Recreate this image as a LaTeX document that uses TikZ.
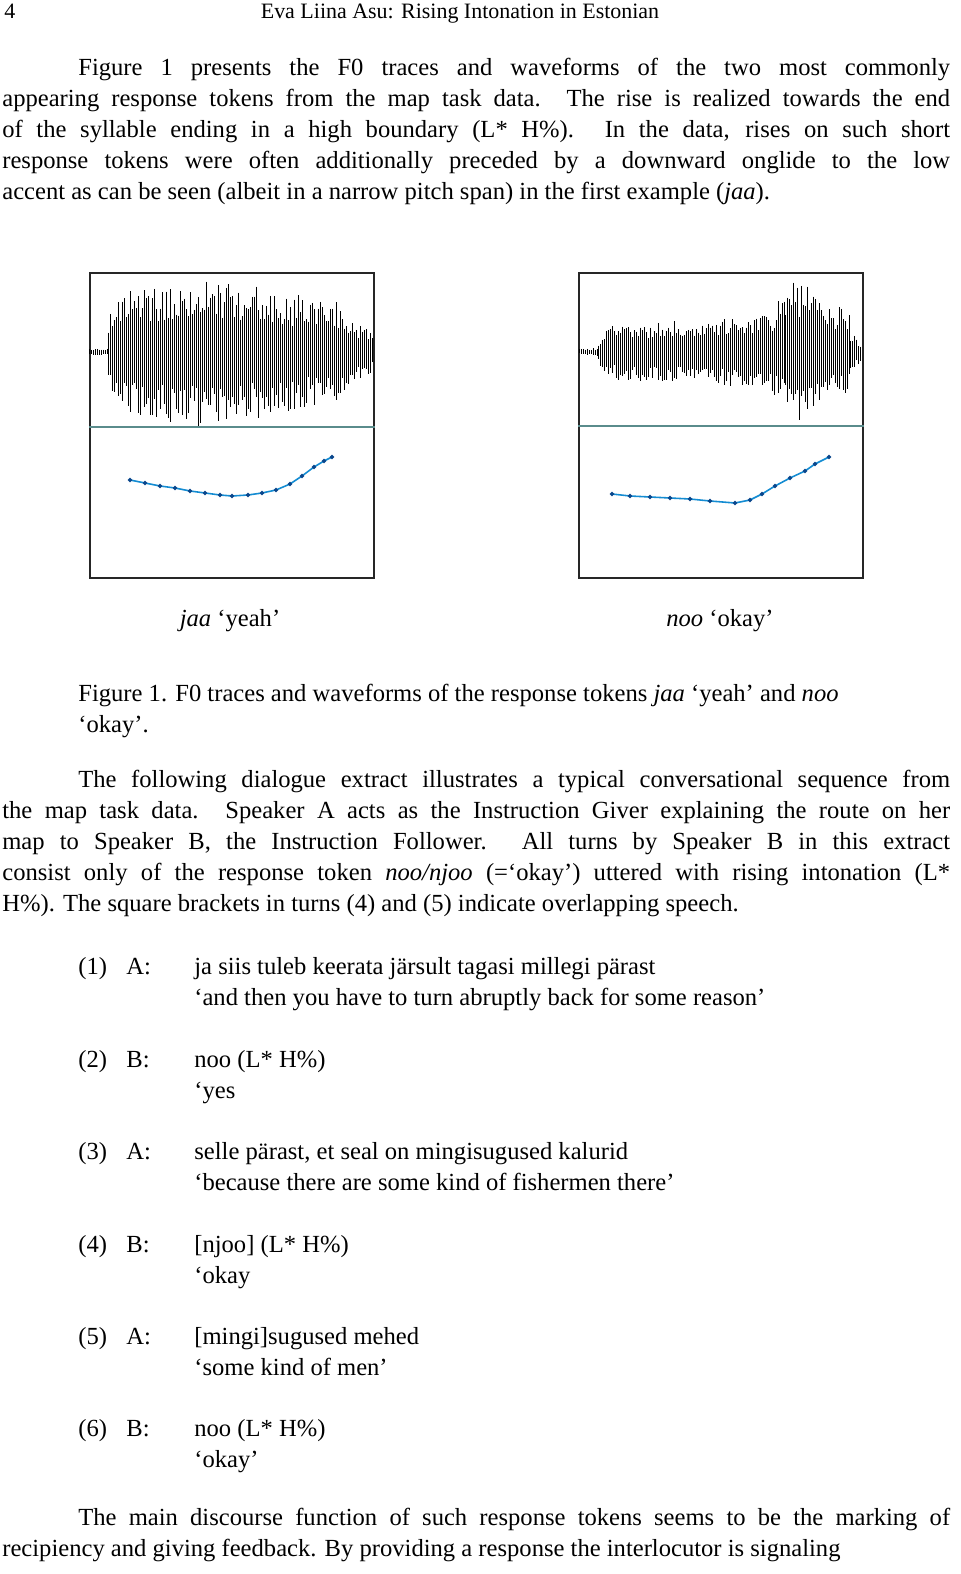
\documentclass[tikz,border=0pt]{standalone}
\usepackage{fontspec}
\setmainfont{Liberation Serif}
\usetikzlibrary{positioning}
\definecolor{divcol}{RGB}{90,140,140}
\definecolor{f0line}{RGB}{20,140,210}
\definecolor{f0mark}{RGB}{10,70,140}
\tikzset{
  body/.style={anchor=north west, inner sep=0pt, text width=18.96cm, align=justify, font=\fontsize{14}{17.6}\selectfont},
  line/.style={anchor=base west, inner sep=0pt, font=\fontsize{14}{17.6}\selectfont},
  panel/.style={draw=black!85, line width=0.9pt},
  divider/.style={draw=divcol, line width=0.8pt},
  fzero/.style={draw=f0line, line width=0.9pt, mark=*, mark size=0.7pt, mark options={fill=f0mark, draw=f0mark}}
}
\newcommand\wavetrace[2]{% center y, segment list
  \foreach \xa/\xb/\aa/\ab in {#2}{
    \pgfmathsetmacro\xc{\xa+2}
    \foreach \x in {\xa,\xc,...,\xb}{
      \pgfmathsetmacro\amp{(\aa+(\ab-\aa)*(\x-\xa)/(\xb-\xa))*(0.45+0.55*rnd)}
      \pgfmathsetmacro\amq{(\aa+(\ab-\aa)*(\x-\xa)/(\xb-\xa))*(0.45+0.55*rnd)}
      \draw[line width=0.35pt] (\x,#1-\amp) -- (\x,#1+\amq);
    }
  }
}
\begin{document}
\begin{tikzpicture}[x=0.02cm, y=-0.02cm]
  \useasboundingbox[fill=white] (0,0) rectangle (960,1574);
  \pgfmathsetseed{7}

  % header
  \node[line, font=\fontsize{12.5}{15}\selectfont] (pageno) at (4,19) {4};
  \node[anchor=base, inner sep=0pt, font=\fontsize{12.5}{15}\selectfont] (runhead) at (460,19) {Eva Liina Asu: Rising Intonation in Estonian};

  % first paragraph
  \node[body] (para1) at (2,58) {\hspace*{76\dimexpr0.02cm\relax}Figure 1 presents the F0 traces and waveforms of the two most commonly\linebreak
  appearing response tokens from the map task data. The rise is realized towards the end\linebreak
  of the syllable ending in a high boundary (L* H\%). In the data, rises on such short\linebreak
  response tokens were often additionally preceded by a downward onglide to the low\linebreak
  accent as can be seen (albeit in a narrow pitch span) in the first example (\textit{jaa}).};

  % panels
  \node[panel, minimum width=5.68cm, minimum height=6.1cm, inner sep=0pt, anchor=north west] (leftbox) at (89,272) {};
  \node[panel, minimum width=5.68cm, minimum height=6.1cm, inner sep=0pt, anchor=north west] (rightbox) at (578,272) {};
  \draw[divider] (leftbox.west |- 0,427) -- (leftbox.east |- 0,427);
  \draw[divider] (rightbox.west |- 0,426) -- (rightbox.east |- 0,426);

  \wavetrace{352}{89/108/3/4, 108/130/40/62, 130/200/62/76, 200/270/76/66, 270/340/62/50, 340/372/42/20}
  \wavetrace{352}{579/598/3/4, 598/612/12/30, 612/760/28/36, 760/785/36/58, 785/815/70/76, 815/850/58/40, 850/861/20/10}

  \draw[fzero] plot coordinates {(130,480) (145,483) (160,486) (175,488) (190,491) (205,493) (220,495) (232,496) (248,495) (262,493) (276,490) (290,484) (302,476) (314,467) (324,461) (332,457)};
  \draw[fzero] plot coordinates {(612,494) (630,496) (650,497) (670,498) (690,499) (710,501) (735,503) (750,500) (762,494) (775,486) (790,478) (805,471) (815,464) (829,457)};

  \node[anchor=base, inner sep=0pt, font=\fontsize{14}{17.6}\selectfont] (leftlabel) at (230,626) {\textit{jaa} ‘yeah’};
  \node[anchor=base, inner sep=0pt, font=\fontsize{14}{17.6}\selectfont] (rightlabel) at (720,626) {\textit{noo} ‘okay’};

  % caption
  \node[line] (cap1) at (78,701) {Figure 1. F0 traces and waveforms of the response tokens \textit{jaa} ‘yeah’ and \textit{noo}};
  \node[line] (cap2) at (78,732) {‘okay’.};

  % second paragraph
  \node[body] (para2) at (2,770) {\hspace*{76\dimexpr0.02cm\relax}The following dialogue extract illustrates a typical conversational sequence from\linebreak
  the map task data. Speaker A acts as the Instruction Giver explaining the route on her\linebreak
  map to Speaker B, the Instruction Follower. All turns by Speaker B in this extract\linebreak
  consist only of the response token \textit{noo/njoo} (=‘okay’) uttered with rising intonation (L*\linebreak
  H\%). The square brackets in turns (4) and (5) indicate overlapping speech.};

  % dialogue
  \foreach \n/\s/\ya/\ta/\tb in {
    1/A/974/ja siis tuleb keerata järsult tagasi millegi pärast/‘and then you have to turn abruptly back for some reason’,
    2/B/1067/noo (L* H\%)/‘yes/okay’,
    3/A/1159/{selle pärast, et seal on mingisugused kalurid}/‘because there are some kind of fishermen there’,
    4/B/1252/[njoo] (L* H\%)/‘okay/so’,
    5/A/1344/[mingi]sugused mehed/‘some kind of men’,
    6/B/1436/noo (L* H\%)/‘okay’}{
    \node[line] (num\n) at (78,\ya) {(\n)};
    \node[line] (spk\n) at (126,\ya) {\s:};
    \node[line] (orig\n) at (194,\ya) {\ta};
    \node[line, below=31*0.02cm of orig\n.base west, anchor=base west] (gloss\n) {\tb};
  }

  % last paragraph
  \node[body] (para3) at (2,1508) {\parfillskip=0pt\hspace*{76\dimexpr0.02cm\relax}The main discourse function of such response tokens seems to be the marking of\linebreak
  recipiency and giving feedback. By providing a response the interlocutor is signaling};
\end{tikzpicture}
\end{document}
